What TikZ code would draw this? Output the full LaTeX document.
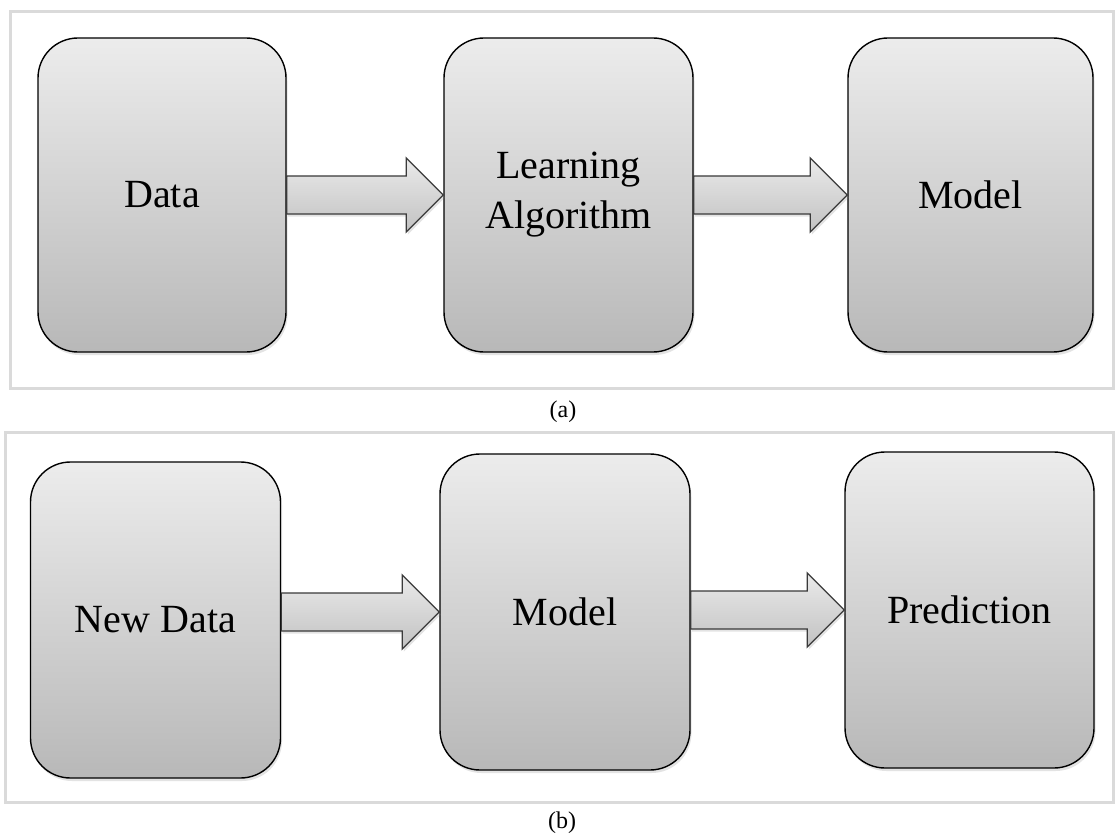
\documentclass[tikz,border=0pt]{standalone}
\usepackage{fontspec}
\setmainfont{Liberation Serif}
\usetikzlibrary{shadows,calc}
\definecolor{boxtop}{HTML}{ECECEC}
\definecolor{boxbot}{HTML}{B8B8B8}
\definecolor{arrtop}{HTML}{EAEAEA}
\definecolor{arrbot}{HTML}{C2C2C2}
\definecolor{arredge}{HTML}{3A3A3A}
\definecolor{framegray}{HTML}{DADADA}
\newcommand\fatarr[2]{%
  \path[fatarrow] let \p1=(#1.east), \p2=(#2.west) in
    (\x1,{\y2+19pt}) -- ({\x2-37pt},{\y2+19pt}) -- ({\x2-37pt},{\y2+37pt}) --
    (\x2,\y2) -- ({\x2-37pt},{\y2-37pt}) -- ({\x2-37pt},{\y2-19pt}) --
    (\x1,{\y2-19pt}) -- cycle;}
\begin{document}
\begin{tikzpicture}[x=1pt,y=-1pt,
  box/.style={draw=black, line width=1.4pt, rounded corners=40pt,
    inner sep=0pt, top color=boxtop, bottom color=boxbot, align=center,
    font=\fontsize{40}{50}\selectfont,
    drop shadow={opacity=0.22, shadow xshift=1.5pt, shadow yshift=-3pt}},
  fatarrow/.style={draw=arredge, line width=1.3pt, top color=arrtop,
    bottom color=arrbot,
    drop shadow={opacity=0.22, shadow xshift=1.5pt, shadow yshift=-2.5pt}},
  panel/.style={draw=framegray, line width=3pt},
  caption/.style={font=\fontsize{24}{29}\selectfont}]
\useasboundingbox[fill=white] (0,0) rectangle (1118,837);
% panel (a)
\draw[panel] (10,12) rectangle (1113,388);
\node[box, minimum width=248pt, minimum height=314pt] (data) at (162,195) {Data};
\node[box, minimum width=249pt, minimum height=314pt] (learn) at (568.5,195) {Learning\\Algorithm};
\node[box, minimum width=245pt, minimum height=314pt] (model) at (970.5,195) {Model};
\fatarr{data}{learn}
\fatarr{learn}{model}
\node[caption] (capa) at (563,412) {(a)};
% panel (b)
\draw[panel] (5,432) rectangle (1113,802);
\node[box, minimum width=250pt, minimum height=316pt] (newdata) at (155.5,620) {New Data};
\node[box, minimum width=250pt, minimum height=316pt] (modelb) at (565,612) {Model};
\node[box, minimum width=249pt, minimum height=316pt] (pred) at (969.5,610) {Prediction};
\fatarr{newdata}{modelb}
\fatarr{modelb}{pred}
\node[caption] (capb) at (562,823) {(b)};
\end{tikzpicture}
\end{document}
